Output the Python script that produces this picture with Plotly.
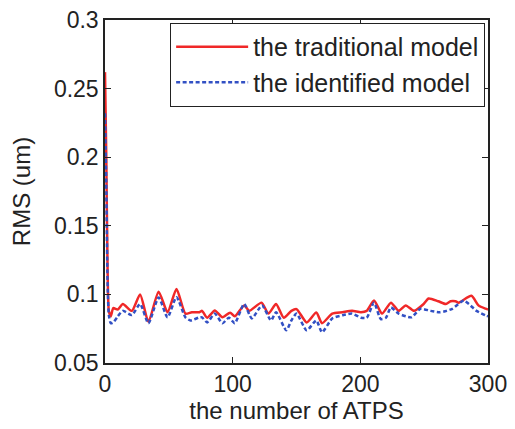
import plotly.graph_objects as go

# traditional model (red, solid)
trad_x = [0, 1, 2, 3, 4.5, 6.5, 10, 14, 21, 27.5, 34, 42, 49, 56, 63, 68, 74, 76, 80, 86, 92, 98,
          101.6, 109, 113, 122.6, 128, 134, 140, 146, 150, 158, 165.5, 170, 178, 186, 193.5,
          200.5, 205, 210.7, 217, 224, 230, 235.6, 242, 249.6, 253.5, 261, 267, 270.7, 274.6,
          277, 287, 292.5, 298, 300]
trad_y = [0.262, 0.2, 0.12, 0.088, 0.084, 0.090, 0.089, 0.093, 0.088, 0.100, 0.080, 0.102, 0.087,
          0.104, 0.086, 0.087, 0.087, 0.088, 0.083, 0.0883, 0.0833, 0.0867, 0.084, 0.092, 0.088,
          0.094, 0.086, 0.093, 0.083, 0.088, 0.0893, 0.0796, 0.0868, 0.079, 0.086, 0.087, 0.088,
          0.087, 0.088, 0.0955, 0.086, 0.094, 0.088, 0.092, 0.088, 0.093, 0.097, 0.095, 0.093,
          0.095, 0.095, 0.094, 0.099, 0.092, 0.0896, 0.089]

# identified model (blue, dashed)
iden_x = [0, 1, 2, 3, 4.5, 6.5, 10, 14, 21, 27.5, 34, 42, 49, 56, 63, 67, 74, 76, 80, 86, 92, 97,
          101.6, 109, 115, 123, 130, 134, 142, 146, 150, 158, 165.5, 170, 178, 186, 193.5, 200.5,
          205, 210.7, 216, 220, 224, 230, 240, 247, 255, 262, 267.6, 272, 281, 285, 291, 298, 300]
iden_y = [0.232, 0.18, 0.11, 0.085, 0.079, 0.0796, 0.084, 0.088, 0.085, 0.093, 0.079, 0.0977,
          0.0833, 0.098, 0.0833, 0.081, 0.0833, 0.0833, 0.0796, 0.086, 0.079, 0.083, 0.079, 0.093,
          0.0825, 0.092, 0.081, 0.087, 0.0738, 0.081, 0.086, 0.0738, 0.081, 0.0724, 0.0825, 0.0848,
          0.086, 0.083, 0.083, 0.094, 0.082, 0.083, 0.0905, 0.086, 0.0833, 0.0895, 0.088, 0.087,
          0.088, 0.0895, 0.0955, 0.093, 0.088, 0.0847, 0.084]

x_ticks = [0, 100, 200, 300]
y_ticks = [0.05, 0.1, 0.15, 0.2, 0.25, 0.3]
y_tick_text = ["0.05", "0.1", "0.15", "0.2", "0.25", "0.3"]

FONT = "Liberation Sans, Arial, Helvetica, sans-serif"

fig = go.Figure()
fig.add_trace(go.Scatter(x=trad_x, y=trad_y, mode="lines", name="the traditional model",
                         line=dict(color="#f02828", width=2.5, shape="spline", smoothing=0.6)))
fig.add_trace(go.Scatter(x=iden_x, y=iden_y, mode="lines", name="the identified model",
                         line=dict(color="#3250c4", width=2.5, dash="4px,2.5px",
                                   shape="spline", smoothing=0.6)))

axis_common = dict(showline=True, linecolor="#222222", linewidth=1.5, mirror="ticks",
                   ticks="inside", ticklen=6, tickcolor="#222222", showgrid=False,
                   zeroline=False, automargin=False, ticklabeloverflow="allow",
                   tickfont=dict(size=23, color="#222222", family=FONT))

fig.update_layout(
    width=515, height=429,
    margin=dict(l=97, r=35, t=12, b=74),
    paper_bgcolor="white", plot_bgcolor="white",
    font=dict(family=FONT, size=24, color="#222222"),
    xaxis=dict(range=[0, 300], tickvals=x_ticks, **axis_common,
               title=dict(text="the number of ATPS", font=dict(size=24), standoff=3)),
    yaxis=dict(range=[0.05, 0.3], tickvals=y_ticks, ticktext=y_tick_text, **axis_common,
               title=dict(text="RMS (um)", font=dict(size=24), standoff=22)),
    legend=dict(x=0.992, y=0.992, xanchor="right", yanchor="top",
                bgcolor="white", bordercolor="#222222", borderwidth=1.2,
                font=dict(size=25, family=FONT, color="#222222"),
                itemwidth=72, tracegroupgap=0),
    showlegend=True,
)

fig.write_html("out.html")
